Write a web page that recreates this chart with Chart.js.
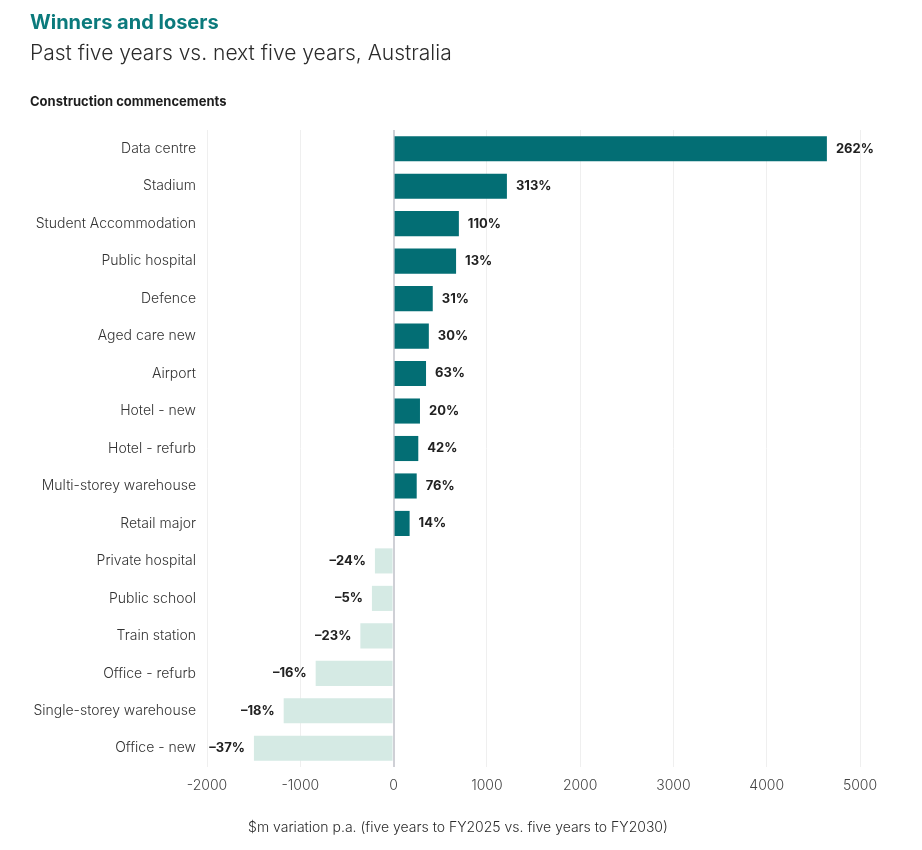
<!DOCTYPE html>
<html>
<head>
<meta charset="utf-8">
<script src="https://cdn.jsdelivr.net/npm/chart.js@4.4.1/dist/chart.umd.min.js"></script>
<style>
  body { margin: 0; background: #fff; font-family: Inter, "Noto Sans", sans-serif; }
  #wrap { position: relative; width: 922px; height: 850px; }
  #chart { position: absolute; left: 0; top: 0; }
  .title { position: absolute; left: 30px; top: 10px; font-size: 20px; font-weight: 700; color: #0b7a7c; }
  .subtitle { position: absolute; left: 30px; top: 40px; font-size: 21px; font-weight: 300; color: #2b2b2b; }
  .section { position: absolute; left: 30px; top: 93px; font-size: 13px; font-weight: 700; color: #1e1e1e; }
  .xtitle { position: absolute; left: 0; width: 916px; top: 818px; text-align: center; font-size: 14px; font-weight: 300; color: #2b2b2b; }
</style>
</head>
<body>
<div id="wrap">
  <canvas id="chart" width="922" height="850"></canvas>
  <div class="title">Winners and losers</div>
  <div class="subtitle">Past five years vs. next five years, Australia</div>
  <div class="section">Construction commencements</div>
  <div class="xtitle">$m variation p.a. (five years to FY2025 vs. five years to FY2030)</div>
</div>
<script>
// categories, top to bottom
const categories = [
    'Data centre', 'Stadium', 'Student Accommodation', 'Public hospital', 'Defence',
    'Aged care new', 'Airport', 'Hotel - new', 'Hotel - refurb', 'Multi-storey warehouse',
    'Retail major', 'Private hospital', 'Public school', 'Train station', 'Office - refurb',
    'Single-storey warehouse', 'Office - new'
];

// $m variation p.a.
const variation = [4645, 1215, 700, 670, 420, 378, 348, 283, 265, 248, 172, -200, -232, -356, -835, -1178, -1497];

// % change labels shown next to bars
const pctChange = [262, 313, 110, 13, 31, 30, 63, 20, 42, 76, 14, -24, -5, -23, -16, -18, -37];

const gainColor = '#036e74';
const lossColor = '#d5eae4';

// draws the % labels at the end of each bar
const barLabels = {
    id: 'barLabels',
    afterDatasetsDraw(chart) {
        const ctx = chart.ctx;
        const meta = chart.getDatasetMeta(0);
        ctx.save();
        ctx.font = '700 13px Inter, "Noto Sans", sans-serif';
        ctx.fillStyle = '#222';
        ctx.textBaseline = 'middle';
        meta.data.forEach((bar, i) => {
            const txt = pctChange[i] + '%';
            if (variation[i] >= 0) {
                ctx.textAlign = 'left';
                ctx.fillText(txt, bar.x + 9, bar.y);
            } else {
                ctx.textAlign = 'right';
                ctx.fillText(txt.replace('-', '\u2013'), bar.x - 9, bar.y);
            }
        });
        ctx.restore();
    }
};

const ctx = document.getElementById('chart').getContext('2d');
const chart = new Chart(ctx, {
    type: 'bar',
    data: {
        labels: categories,
        datasets: [{
            data: variation,
            backgroundColor: variation.map(v => v >= 0 ? gainColor : lossColor),
            barPercentage: 0.67,
            categoryPercentage: 1
        }]
    },
    options: {
        indexAxis: 'y',
        responsive: false,
        animation: false,
        layout: { padding: { top: 130, right: 62, bottom: 6, left: 0 } },
        plugins: {
            legend: { display: false },
            tooltip: { enabled: false }
        },
        scales: {
            x: {
                min: -2000,
                max: 5000,
                ticks: {
                    stepSize: 1000,
                    color: '#444',
                    padding: 10,
                    callback: v => String(v),
                    font: { family: 'Inter, "Noto Sans", sans-serif', size: 14, weight: 300 }
                },
                grid: {
                    drawTicks: false,
                    color: c => c.tick && c.tick.value === 0 ? '#cfd0d6' : '#efefef',
                    lineWidth: c => c.tick && c.tick.value === 0 ? 2 : 1
                },
                border: { display: false },
                afterFit(scale) { scale.height = 77; }
            },
            y: {
                ticks: {
                    color: '#333',
                    padding: 3,
                    font: { family: 'Inter, "Noto Sans", sans-serif', size: 14, weight: 300 }
                },
                grid: { display: false },
                border: { display: false },
                afterFit(scale) { scale.width = 207; }
            }
        }
    },
    plugins: [barLabels]
});
</script>
</body>
</html>
